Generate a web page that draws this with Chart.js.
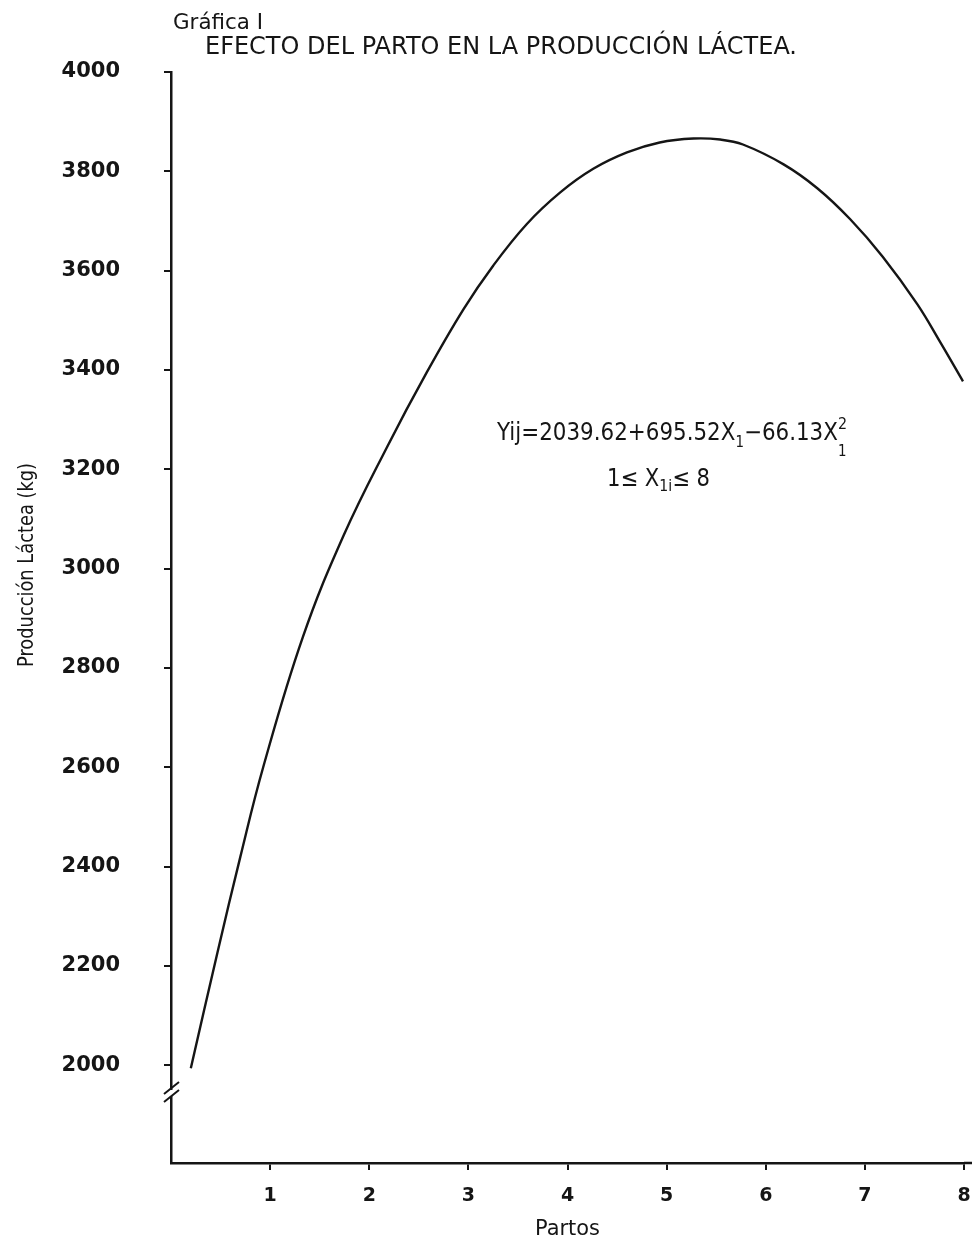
<!DOCTYPE html>
<html>
<head>
<meta charset="utf-8">
<script src="https://cdn.jsdelivr.net/npm/chart.js@4.4.1/dist/chart.umd.min.js"></script>
<style>
  html, body { margin: 0; padding: 0; background: #fff; }
  #wrap { width: 972px; height: 1239px; }
</style>
</head>
<body>
<div id="wrap"><canvas id="grafica"></canvas></div>
<script>
// values
const partos = [0.20, 0.47, 0.70, 0.93, 1.33, 1.74, 2.18, 2.58, 2.95, 3.25, 3.59, 3.93, 4.26, 4.60, 4.93, 5.27, 5.54, 5.77, 6.18, 6.52, 6.85, 7.18, 7.53, 7.76, 7.99];
const produccion = [1994, 2228, 2420, 2600, 2862, 3066, 3245, 3395, 3522, 3610, 3694, 3758, 3805, 3838, 3858, 3866, 3864, 3854, 3814, 3766, 3704, 3628, 3532, 3456, 3377];
const xTicks = [1, 2, 3, 4, 5, 6, 7, 8];
const yTicks = [2000, 2200, 2400, 2600, 2800, 3000, 3200, 3400, 3600, 3800, 4000];

const INK = '#151515';
const FONT = '"DejaVu Sans", sans-serif';

// draw a string squeezed/stretched to a given width
function fitText(ctx, text, x, y, width, size, weight) {
    ctx.save();
    ctx.font = (weight || 'normal') + ' ' + size + 'px ' + FONT;
    const w = ctx.measureText(text).width;
    ctx.translate(x, y);
    ctx.scale(width / w, 1);
    ctx.fillText(text, 0, 0);
    ctx.restore();
}

// runs of text with sub/superscripts, fitted to width
function fitRuns(ctx, runs, x, y, width) {
    ctx.save();
    let total = 0;
    runs.forEach(r => {
        ctx.font = r.size + 'px ' + FONT;
        r.w = ctx.measureText(r.t).width;
        if (!r.stack) total += r.w;
    });
    ctx.translate(x, y);
    ctx.scale(width / total, 1);
    let cx = 0, last = 0;
    runs.forEach(r => {
        ctx.font = r.size + 'px ' + FONT;
        if (r.stack) {
            ctx.fillText(r.t, last, r.dy);
        } else {
            last = cx;
            ctx.fillText(r.t, cx, r.dy);
            cx += r.w;
        }
    });
    ctx.restore();
}

const textos = {
    id: 'textos',
    afterDraw(chart) {
        const ctx = chart.ctx;
        const area = chart.chartArea;
        const ys = chart.scales.y;
        ctx.save();
        ctx.fillStyle = INK;
        ctx.textBaseline = 'alphabetic';
        ctx.textAlign = 'left';

        fitText(ctx, 'Gráfica I', 173, 29, 90, 22);
        fitText(ctx, 'EFECTO DEL PARTO EN LA PRODUCCIÓN LÁCTEA.', 205, 54, 592, 25);
        fitText(ctx, 'Partos', 535, 1235, 65, 21);

        ctx.save();
        ctx.translate(33, 667);
        ctx.rotate(-Math.PI / 2);
        fitText(ctx, 'Producción Láctea (kg)', 0, 0, 204, 22);
        ctx.restore();

        fitRuns(ctx, [
            { t: 'Yij=2039.62+695.52X', size: 24, dy: 0 },
            { t: '1', size: 15, dy: 7 },
            { t: '−66.13X', size: 24, dy: 0 },
            { t: '2', size: 16, dy: -11 },
            { t: '1', size: 15, dy: 16, stack: true }
        ], 497, 440, 350);

        fitRuns(ctx, [
            { t: '1≤ X', size: 24, dy: 0 },
            { t: '1i', size: 16, dy: 5 },
            { t: '≤ 8', size: 24, dy: 0 }
        ], 607, 486, 103);

        // x axis runs on to the page edge
        ctx.strokeStyle = INK;
        ctx.lineWidth = 2.5;
        ctx.beginPath();
        ctx.moveTo(area.right, area.bottom);
        ctx.lineTo(chart.width, area.bottom);
        ctx.stroke();

        // axis break on the y axis
        const yb = ys.getPixelForValue(1944);
        const x0 = area.left;
        ctx.fillStyle = '#fff';
        ctx.fillRect(x0 - 3, yb - 3, 6, 6);
        ctx.lineWidth = 2;
        ctx.beginPath();
        ctx.moveTo(x0 - 7, yb + 1);
        ctx.lineTo(x0 + 8, yb - 11);
        ctx.moveTo(x0 - 7, yb + 9);
        ctx.lineTo(x0 + 8, yb - 3);
        ctx.stroke();
        ctx.restore();
    }
};

new Chart(document.getElementById('grafica'), {
    type: 'line',
    data: {
        datasets: [{
            label: 'Producción Láctea',
            data: partos.map((p, i) => ({ x: p, y: produccion[i] })),
            borderColor: INK,
            borderWidth: 2.4,
            pointRadius: 0,
            tension: 0.4,
            fill: false
        }]
    },
    options: {
        responsive: true,
        maintainAspectRatio: false,
        animation: false,
        layout: { padding: { top: 72, right: 8, left: 0, bottom: 0 } },
        plugins: {
            legend: { display: false },
            tooltip: { enabled: false }
        },
        scales: {
            x: {
                type: 'linear',
                min: 0,
                max: 8,
                afterBuildTicks: s => { s.ticks = xTicks.map(v => ({ value: v })); },
                afterFit: s => { s.height = 76; s.paddingLeft = 0; s.paddingRight = 0; },
                grid: { drawOnChartArea: false, drawTicks: true, tickLength: 7, color: INK, lineWidth: 2 },
                border: { display: true, color: INK, width: 2.5 },
                ticks: {
                    color: INK,
                    padding: 15,
                    maxRotation: 0,
                    callback: v => String(v),
                    font: { family: FONT, size: 19, weight: 'bold' }
                }
            },
            y: {
                type: 'linear',
                min: 1803,
                max: 4000,
                afterBuildTicks: s => { s.ticks = yTicks.map(v => ({ value: v })); },
                afterFit: s => { s.width = 171; s.paddingTop = 0; s.paddingBottom = 0; },
                grid: { drawOnChartArea: false, drawTicks: true, tickLength: 7, color: INK, lineWidth: 2 },
                border: { display: true, color: INK, width: 2.5 },
                ticks: {
                    color: INK,
                    padding: 44,
                    callback: v => String(v),
                    font: { family: FONT, size: 21, weight: 'bold' }
                }
            }
        }
    },
    plugins: [textos]
});
</script>
</body>
</html>
